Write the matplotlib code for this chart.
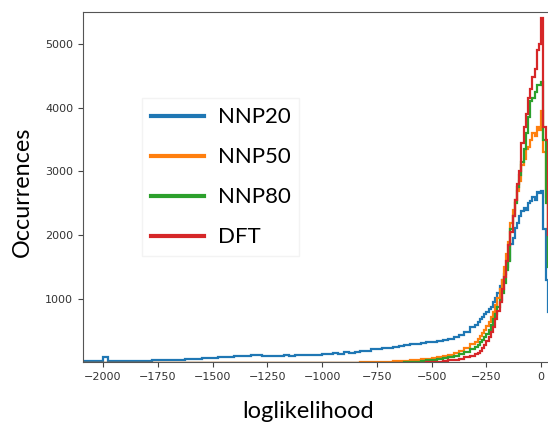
import numpy as np
import matplotlib.pyplot as plt

labels = ['NNP20', 'NNP50', 'NNP80', 'DFT']
colors = ['#1f77b4', '#ff7f0e', '#2ca02c', '#d62728']

# bin edges: 25-wide in the tail, 10-wide near the peak
tail_edges = np.arange(-2100, -300, 25)
peak_edges = np.arange(-300, 51, 10)
edges = np.concatenate([tail_edges, peak_edges])

# tail counts (-2100 .. -300, 72 bins)
nnp20_tail = [25, 30, 30, 35, 90, 30, 30, 30, 30, 30, 35, 35, 35, 40, 40, 40,
              40, 45, 50, 55, 60, 65, 70, 75,
              80, 85, 95, 90, 100, 110, 105, 120, 115, 110,
              105, 100, 110, 115, 105, 120, 125, 115, 130, 125,
              135, 140, 150, 145, 165, 160, 175, 190, 185, 210,
              220, 235, 230, 250, 265, 280, 290, 300, 310, 320,
              330, 345, 360, 380, 400, 430, 480, 560]
nnp50_tail = [0] * 50 + [5, 8, 10, 15,
              15, 18, 20, 25, 30, 35, 40, 50, 55, 65,
              75, 90, 105, 125, 150, 185, 235, 300]
nnp80_tail = [0] * 58 + [5, 10, 15, 20, 30, 40,
              50, 60, 75, 90, 110, 135, 170, 215]
dft_tail = [0] * 62 + [5, 10,
            15, 20, 30, 40, 50, 65, 85, 110]

# peak counts (-300 .. 50, 35 bins)
nnp20_peak = [600, 640, 680, 720, 770, 800, 850, 880, 950, 1020, 1100, 1200,
              1300, 1400, 1500, 1620, 1870, 1950, 2120, 2200, 2300, 2380, 2430,
              2400, 2500, 2540, 2600, 2550, 2680, 2670, 2700, 2100, 1300, 800, 400]
nnp50_peak = [330, 370, 420, 470, 520, 580, 640, 720, 800, 900, 1020, 1150,
              1300, 1500, 1700, 1900, 2200, 2400, 2550, 2700, 2850, 3100, 3200,
              3350, 3380, 3500, 3600, 3550, 3700, 3650, 3950, 3300, 2600, 1600, 700]
nnp80_peak = [250, 280, 320, 360, 400, 450, 520, 600, 680, 770, 870, 980,
              1100, 1250, 1450, 1600, 2100, 2300, 2500, 2750, 2950, 3150, 3350,
              3600, 3850, 4100, 4150, 4250, 4350, 4350, 4400, 3500, 2500, 1500, 600]
dft_peak = [140, 160, 190, 230, 280, 340, 400, 480, 560, 680, 820, 960,
            1150, 1350, 1600, 1850, 2050, 2300, 2550, 2800, 3000, 3450, 3700,
            3900, 4150, 4300, 4480, 4600, 4900, 5000, 5400, 3700, 3500, 2000, 800]

series = [nnp20_tail + nnp20_peak, nnp50_tail + nnp50_peak,
          nnp80_tail + nnp80_peak, dft_tail + dft_peak]

fig = plt.figure(figsize=(5.48, 4.30), dpi=100)
ax = fig.add_axes([0.1515, 0.158, 0.876, 0.814])

for counts, lab, c in zip(series, labels, colors):
    ax.stairs(counts, edges, color=c, lw=1.6, label=lab)

ax.set_xlim(-2091, 100)
ax.set_ylim(12, 5500)
ax.set_xticks(np.arange(-2000, 1, 250))
ax.set_yticks([1000, 2000, 3000, 4000, 5000])
ax.tick_params(labelsize=8, colors='#444444', labelcolor='#333333')
for s in ax.spines.values():
    s.set_color('#555555')

leg = ax.legend(loc='upper left', bbox_to_anchor=(0.10, 0.785), frameon=True,
                fancybox=False, edgecolor='#f0f0f0', handlelength=2.4,
                labelspacing=0.9, handletextpad=0.6,
                prop={'family': 'Lato', 'size': 16})
for line in leg.get_lines():
    line.set_linewidth(3)

fig.text(0.04, 0.555, 'Occurrences', rotation=90, ha='center', va='center',
         family='Lato', fontsize=16.8)
fig.text(0.563, 0.042, 'loglikelihood', ha='center', va='center',
         family='Lato', fontsize=17)

fig.savefig('out.png', dpi=100)
